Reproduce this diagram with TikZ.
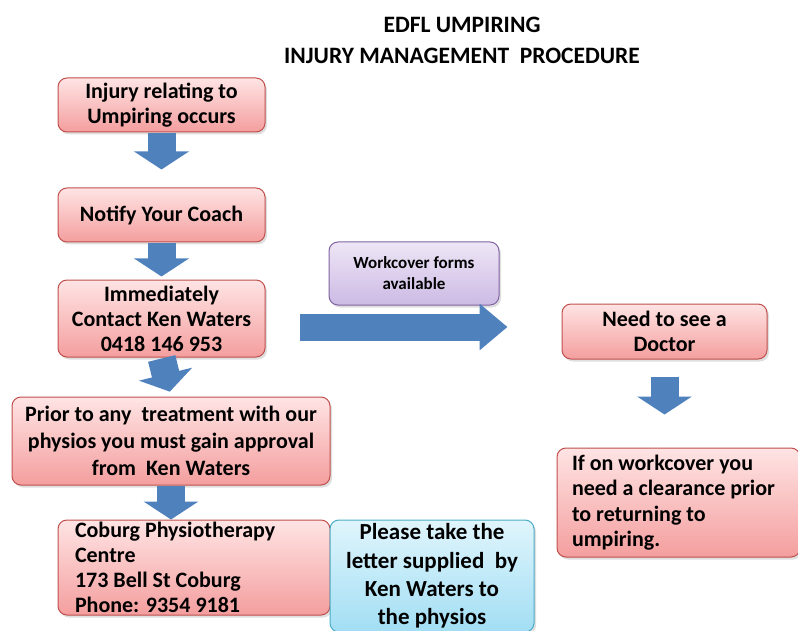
\documentclass[tikz,border=0pt]{standalone}
\usepackage{fontspec}
\setmainfont{Carlito}
\usetikzlibrary{calc, positioning, arrows.meta, shadows}
\definecolor{redline}{RGB}{192,80,77}
\definecolor{redtop}{RGB}{255,228,228}
\definecolor{redbot}{RGB}{244,158,158}
\definecolor{arrblue}{RGB}{79,129,189}
\definecolor{cyanline}{RGB}{75,172,198}
\definecolor{cyantop}{RGB}{224,245,252}
\definecolor{cyanbot}{RGB}{162,222,244}
\definecolor{vioLine}{RGB}{128,100,162}
\definecolor{viotop}{RGB}{238,230,246}
\definecolor{viobot}{RGB}{204,186,228}

\tikzset{
  box/.style={rectangle, rounded corners=9pt, line width=1pt, inner sep=0pt,
    align=center, font=\bfseries\fontsize{22}{25}\selectfont,
    drop shadow={opacity=0.25, shadow xshift=2pt, shadow yshift=-2.5pt}},
  redbox/.style={box, draw=redline, top color=redtop, bottom color=redbot},
  cyanbox/.style={box, draw=cyanline, top color=cyantop, bottom color=cyanbot},
  viobox/.style={box, draw=vioLine, top color=viotop, bottom color=viobot},
  downarr/.style={draw=arrblue, line width=28pt, -{Triangle[width=54pt,length=18pt]}},
  rightarr/.style={draw=arrblue, line width=27pt, -{Triangle[width=45pt,length=28pt]}}
}

\begin{document}
\begin{tikzpicture}[x=1pt, y=-1pt]
\useasboundingbox (0,0) rectangle (798,631);

% title
\node (title) at (462,40) [align=center, font=\bfseries\fontsize{23.5}{31}\selectfont]
  {EDFL UMPIRING\\INJURY MANAGEMENT\ \ PROCEDURE};

% left column
\node (b1) at (161.5,105) [redbox, minimum width=207pt, minimum height=54pt]
  {Injury relating to\\Umpiring occurs};
\node (b2) at (161.5,215) [redbox, minimum width=207pt, minimum height=54pt]
  {Notify Your Coach};
\node (b3) at (161.5,318.5) [redbox, minimum width=207pt, minimum height=77pt]
  {Immediately\\Contact Ken Waters\\0418 146 953};
\node (b4) at (171,441) [redbox, minimum width=318pt, minimum height=88pt,
  font=\bfseries\fontsize{22}{27}\selectfont]
  {Prior to any\ \ treatment with our\\physios you must gain approval\\from\ \ Ken Waters};
\node (b5) at (194,567.5) [redbox, minimum width=272pt, minimum height=95pt,
  text width=238pt, align=flush left]
  {Coburg Physiotherapy\\Centre\\173 Bell St Coburg\\Phone: 9354 9181};
\node (b6) at (432,576) [cyanbox, minimum width=204pt, minimum height=112pt,
  font=\bfseries\fontsize{23}{28.2}\selectfont]
  {Please take the\\letter supplied\ \ by\\Ken Waters to\\the physios};

% right column
\node (wc) at (414,273.5) [viobox, minimum width=170pt, minimum height=63pt,
  font=\bfseries\fontsize{17}{21}\selectfont]
  {Workcover forms\\available};
\node (b8) at (664.5,331.5) [redbox, minimum width=205pt, minimum height=55pt]
  {Need to see a\\Doctor};
\node (b9) at (678.5,502.5) [redbox, minimum width=243pt, minimum height=109pt,
  text width=213pt, align=flush left, font=\bfseries\fontsize{22}{25.5}\selectfont]
  {If on workcover you\\need a clearance prior\\to returning to\\umpiring.};

% block arrows
\draw[downarr, shorten <=1pt, shorten >=18pt] (b1.south) -- (b2.north);
\draw[downarr, shorten <=1pt, shorten >=3pt] (b2.south) -- (b3.north);
\draw[downarr, shorten <=1pt, shorten >=5pt] (b3.south) -- (b4.north);
\draw[downarr] (b4.south) -- (b4.south |- b5.north);
\draw[downarr, shorten <=17pt, shorten >=33pt] (b8.south) -- (b8.south |- b9.north);
\coordinate (hs) at (300,327);
\draw[rightarr, shorten >=54pt] (hs) -- (hs -| b8.west);
\end{tikzpicture}
\end{document}
